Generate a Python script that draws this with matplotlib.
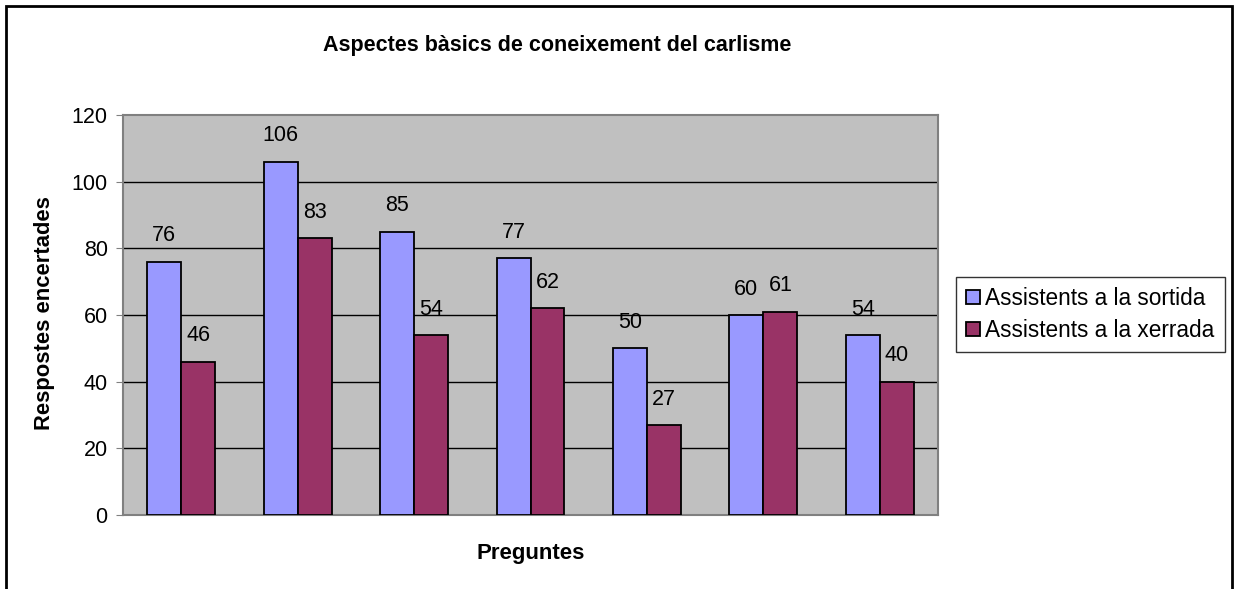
import matplotlib.pyplot as plt
import matplotlib.patches as mpatches
import numpy as np

plt.rcParams['font.family'] = ['Liberation Sans', 'DejaVu Sans']

title = 'Aspectes bàsics de coneixement del carlisme'
series_names = ['Assistents a la sortida', 'Assistents a la xerrada']
sortida = [76, 106, 85, 77, 50, 60, 54]
xerrada = [46, 83, 54, 62, 27, 61, 40]
yticks = [0, 20, 40, 60, 80, 100, 120]

W, H = 1234, 589
fig = plt.figure(figsize=(W / 100, H / 100), dpi=100)
fig.set_facecolor('white')

# outer chart border (bottom edge runs off the image)
fig.patches.append(mpatches.Rectangle((6 / W, -0.05), (1232 - 6) / W, 1.05 - 6 / H,
                                      transform=fig.transFigure, fill=False,
                                      edgecolor='black', linewidth=2))

ax = fig.add_axes([123 / W, (H - 515) / H, (938 - 123) / W, 400 / H])
ax.set_facecolor('#C0C0C0')

n = len(sortida)
x = np.arange(n) + 0.5
bw = 0.292
b1 = ax.bar(x - bw / 2, sortida, bw, color='#9999FF', edgecolor='black', linewidth=1.3,
            label=series_names[0], zorder=3)
b2 = ax.bar(x + bw / 2, xerrada, bw, color='#993366', edgecolor='black', linewidth=1.3,
            label=series_names[1], zorder=3)

for bars, vals in [(b1, sortida), (b2, xerrada)]:
    for rect, v in zip(bars, vals):
        ax.annotate(f'{v}', (rect.get_x() + rect.get_width() / 2, v),
                    xytext=(0, 11), textcoords='offset points',
                    ha='center', va='bottom', fontsize=15.5, zorder=4)

ax.set_xlim(0, n)
ax.set_ylim(0, 120)
ax.set_yticks(yticks)
ax.set_yticklabels([str(t) for t in yticks])
ax.tick_params(axis='y', labelsize=15.5, length=5, color='#808080', pad=6)
ax.set_xticks([])
for y in yticks[1:-1]:
    ax.axhline(y, color='black', linewidth=1, zorder=1)
for s in ax.spines.values():
    s.set_color('#808080')
    s.set_linewidth(1.5)

fig.text(45 / W, 1 - 313 / H, 'Respostes encertades', rotation=90, ha='center', va='center',
         fontsize=15.8, fontweight='bold')
fig.text(531 / W, 1 - 553 / H, 'Preguntes', ha='center', va='center',
         fontsize=16, fontweight='bold')
fig.text(557 / W, 1 - 45 / H, title, ha='center', va='center',
         fontsize=15.5, fontweight='bold')

leg = fig.legend(handles=[b1, b2], loc='upper left',
                 bbox_to_anchor=(956 / W, 1 - 277 / H), fontsize=16.3,
                 frameon=True, fancybox=False, handlelength=0.6, handleheight=0.6,
                 handletextpad=0.25, borderpad=0.45, labelspacing=0.4, borderaxespad=0)
leg.get_frame().set_edgecolor('black')
leg.get_frame().set_linewidth(1)

fig.savefig('out.png', dpi=100)
